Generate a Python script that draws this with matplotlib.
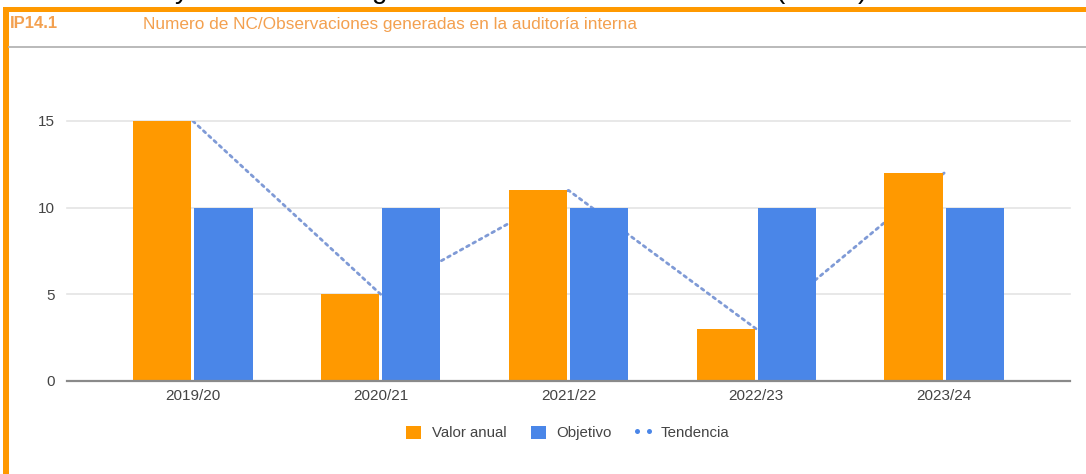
import matplotlib
matplotlib.use("Agg")
import matplotlib.pyplot as plt
from matplotlib.patches import Patch, Rectangle
from matplotlib.lines import Line2D
from matplotlib.legend_handler import HandlerLine2D
import numpy as np

plt.rcParams['font.family'] = ['Liberation Sans', 'DejaVu Sans']

# ---- data ----
categories = ["2019/20", "2020/21", "2021/22", "2022/23", "2023/24"]
valor_anual = [15, 5, 11, 3, 12]
objetivo = [10, 10, 10, 10, 10]
tendencia = [15, 5, 11, 3, 12]
y_ticks = [0, 5, 10, 15]
legend_labels = ["Valor anual", "Objetivo", "Tendencia"]
code_label = "IP14.1"
title_label = "Numero de NC/Observaciones generadas en la auditoría interna"

ORANGE = "#ff9900"
BLUE = "#4a86e8"
TREND = "#7f9ad6"
TITLE_C = "#f3a04f"

W, H = 1086, 474
fig = plt.figure(figsize=(W / 100, H / 100), dpi=100)
fig.patch.set_facecolor("white")

def fx(px):
    return px / W

def fy(py):
    return 1 - py / H

# frame pieces
fig.add_artist(Rectangle((fx(3), fy(474)), fx(6), fy(7) - fy(474),
                         transform=fig.transFigure, color=ORANGE, lw=0))
fig.add_artist(Rectangle((fx(3), fy(12)), 1 - fx(3), fy(7) - fy(12),
                         transform=fig.transFigure, color=ORANGE, lw=0))
fig.add_artist(Line2D([fx(9), 1], [fy(47), fy(47)], transform=fig.transFigure,
                      color="#b4b4b4", lw=1.3))

# clipped fragments of document text above the frame
for ch, xp in [("y", 182), ("g", 380), ("(", 780), (")", 862)]:
    fig.text(fx(xp), fy(-2), ch, fontsize=20, color="black",
             ha="center", va="baseline", family="Liberation Sans")

# header
fig.text(fx(10), fy(24), code_label, fontsize=12, fontweight="bold",
         color=TITLE_C, ha="left", va="center")
fig.text(fx(143), fy(24), title_label, fontsize=12.4, color=TITLE_C,
         ha="left", va="center")

ax = fig.add_axes([fx(67), fy(381), fx(1070) - fx(67), fy(121) - fy(381)])
x = np.arange(len(categories))
bw = 0.31
off = 0.163
ax.bar(x - off, valor_anual, bw, color=ORANGE, zorder=3, label=legend_labels[0])
ax.bar(x + off, objetivo, bw, color=BLUE, zorder=3, label=legend_labels[1])
ax.plot(x, tendencia, color=TREND, lw=2.0, linestyle=(0, (1, 1.6)),
        dash_capstyle="round", zorder=2)

ax.set_xlim(-0.67, len(categories) - 1 + 0.67)
ax.set_ylim(0, 15)
ax.set_yticks(y_ticks)
ax.set_xticks(x)
ax.set_xticklabels(categories)
for s in ax.spines.values():
    s.set_visible(False)
ax.tick_params(axis="both", length=0, labelsize=11, colors="#444444")
ax.tick_params(axis="y", pad=9)
ax.tick_params(axis="x", pad=6)
for t in y_ticks[1:]:
    ax.axhline(t, color="#e4e4e4", lw=1.2, zorder=1, clip_on=False)
ax.axhline(0, color="#8a8a8a", lw=1.6, zorder=4, clip_on=False)

trend_handle = Line2D([0], [0], color=BLUE, lw=0, marker="o", markersize=3.6,
                      markeredgewidth=0)
handles = [Patch(facecolor=ORANGE, edgecolor="none"),
           Patch(facecolor=BLUE, edgecolor="none"),
           trend_handle]
fig.legend(handles, legend_labels, loc="center", bbox_to_anchor=(fx(568), fy(433)),
           ncol=3, frameon=False, fontsize=10.8, handlelength=1.0, handleheight=1.0,
           handler_map={trend_handle: HandlerLine2D(numpoints=2, marker_pad=0.1)},
           handletextpad=0.7, columnspacing=1.6, labelcolor="#444444")

fig.savefig("out.png", dpi=100)
